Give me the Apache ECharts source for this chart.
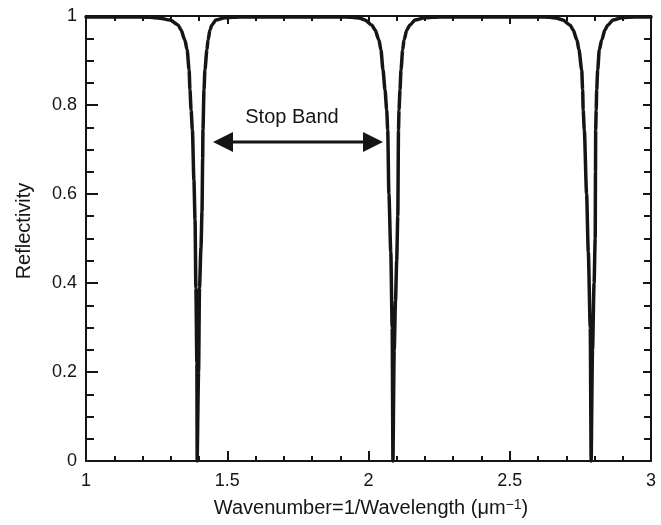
<!DOCTYPE html>
<html>
<head>
<meta charset="utf-8">
<title>Reflectivity vs wavenumber</title>
<script src="https://cdn.jsdelivr.net/npm/echarts@6/dist/echarts.min.js"></script>
<style>
  html, body { margin: 0; padding: 0; background: #ffffff; }
  #chart { width: 661px; height: 525px; }
</style>
</head>
<body>
<div id="chart"></div>
<script>
// Reflectivity spectrum: [wavenumber (1/um), reflectivity] around each transmission dip
const dip1 = [
  [1.000, 0.998], [1.156, 0.998], [1.2265, 0.997], [1.262, 0.995], [1.297, 0.991],
  [1.326, 0.980], [1.336, 0.969], [1.350, 0.946], [1.358, 0.924], [1.365, 0.879],
  [1.368, 0.834], [1.372, 0.789], [1.3766, 0.744], [1.382, 0.631], [1.386, 0.542],
  [1.389, 0.39], [1.3925, 0.22], [1.3935, 0.0], [1.396, 0.0],
  [1.3985, 0.20], [1.4018, 0.39], [1.407, 0.48], [1.4106, 0.56], [1.413, 0.68],
  [1.414, 0.744], [1.4177, 0.834], [1.421, 0.879], [1.428, 0.924], [1.432, 0.946],
  [1.439, 0.969], [1.446, 0.980], [1.460, 0.991], [1.492, 0.996], [1.545, 0.998]
];
const dip2 = [
  [1.7575, 0.998], [1.899, 0.998], [1.9416, 0.997], [1.970, 0.995], [1.9876, 0.991],
  [2.0113, 0.980], [2.023, 0.969], [2.037, 0.946], [2.044, 0.924], [2.0513, 0.879],
  [2.0584, 0.834], [2.0644, 0.789], [2.068, 0.744], [2.0722, 0.60], [2.0789, 0.47],
  [2.0838, 0.30], [2.0866, 0.0], [2.089, 0.0],
  [2.091, 0.25], [2.0956, 0.36], [2.0998, 0.45], [2.1037, 0.55], [2.1062, 0.744],
  [2.108, 0.789], [2.1115, 0.834], [2.115, 0.879], [2.121, 0.924], [2.1257, 0.946],
  [2.136, 0.969], [2.147, 0.980], [2.1646, 0.991], [2.200, 0.996], [2.253, 0.998]
];
const dip3 = [
  [2.4655, 0.998], [2.607, 0.998], [2.642, 0.997], [2.667, 0.995], [2.688, 0.991],
  [2.713, 0.980], [2.724, 0.969], [2.738, 0.946], [2.745, 0.924], [2.7547, 0.879],
  [2.758, 0.834], [2.760, 0.789], [2.7639, 0.744], [2.772, 0.60], [2.778, 0.47],
  [2.785, 0.30], [2.7882, 0.0], [2.7906, 0.0],
  [2.793, 0.25], [2.7985, 0.40], [2.8025, 0.50], [2.8035, 0.65], [2.8042, 0.744],
  [2.806, 0.789], [2.8078, 0.834], [2.8113, 0.879], [2.817, 0.924], [2.8255, 0.946],
  [2.8372, 0.969], [2.8478, 0.980], [2.8655, 0.991], [2.897, 0.996], [2.943, 0.998],
  [3.000, 0.998]
];

// Axis ranges and ticks
const xRange = [1, 3];
const xStep = 0.5;
const yRange = [0, 1];
const yStep = 0.2;

// Stop band annotation: arrow tip wavenumbers, its reflectivity level, caption position
const stopBandEdges = [1.4496, 2.0513];
const stopBandLevel = 0.717;
const stopBandCaption = { text: 'Stop Band', x: 1.729, y: 0.771 };

const FONT = "'Liberation Sans', Arial, Helvetica, sans-serif";
const INK = '#151515';

const spectrum = dip1.concat(dip2, dip3);

const chart = echarts.init(document.getElementById('chart'), null, { renderer: 'canvas' });

function baseAxis(extra) {
  return Object.assign({
    type: 'value',
    axisLine: { show: true, onZero: false, lineStyle: { color: INK, width: 2 } },
    splitLine: { show: false },
    minorSplitLine: { show: false }
  }, extra);
}

const option = {
  animation: false,
  backgroundColor: '#ffffff',
  grid: { left: 86, right: 10, top: 16, bottom: 64, outerBoundsMode: 'none', containLabel: false },
  xAxis: [
    baseAxis({
      position: 'bottom',
      min: xRange[0], max: xRange[1], interval: xStep,
      axisTick: { show: true, inside: true, length: 10, lineStyle: { color: INK, width: 2 } },
      minorTick: { show: true, splitNumber: 5, length: 5, lineStyle: { color: INK, width: 2 } },
      axisLabel: { show: true, margin: 11, color: INK, fontSize: 18, fontFamily: FONT }
    }),
    baseAxis({
      position: 'top',
      min: xRange[0], max: xRange[1], interval: xStep,
      axisTick: { show: true, inside: true, length: 8, lineStyle: { color: INK, width: 2 } },
      minorTick: { show: true, splitNumber: 5, length: 5, lineStyle: { color: INK, width: 2 } },
      axisLabel: { show: false }
    })
  ],
  yAxis: [
    baseAxis({
      position: 'left',
      min: yRange[0], max: yRange[1], interval: yStep,
      axisTick: { show: true, inside: true, length: 12, lineStyle: { color: INK, width: 2 } },
      minorTick: { show: true, splitNumber: 4, length: 8, lineStyle: { color: INK, width: 2 } },
      axisLabel: { show: true, margin: 9, color: INK, fontSize: 18, fontFamily: FONT }
    }),
    baseAxis({
      position: 'right',
      min: yRange[0], max: yRange[1], interval: yStep,
      axisTick: { show: true, inside: true, length: 8, lineStyle: { color: INK, width: 2 } },
      minorTick: { show: true, splitNumber: 4, length: 7, lineStyle: { color: INK, width: 2 } },
      axisLabel: { show: false }
    })
  ],
  series: [
    {
      type: 'line',
      xAxisIndex: 0,
      yAxisIndex: 0,
      data: spectrum,
      showSymbol: false,
      symbol: 'none',
      smooth: 0.25,
      smoothMonotone: 'x',
      clip: false,
      lineStyle: { color: INK, width: 3.5, join: 'round', cap: 'round' },
      z: 3
    },
    {
      type: 'custom',
      xAxisIndex: 0,
      yAxisIndex: 0,
      clip: false,
      data: [[stopBandEdges[0], stopBandEdges[1], stopBandLevel]],
      encode: { x: [0, 1], y: 2 },
      renderItem: function (params, api) {
        const a = api.coord([api.value(0), api.value(2)]);
        const b = api.coord([api.value(1), api.value(2)]);
        const cap = api.coord([stopBandCaption.x, stopBandCaption.y]);
        const head = 20, half = 10;
        return {
          type: 'group',
          children: [
            {
              type: 'line',
              shape: { x1: a[0] + head - 2, y1: a[1], x2: b[0] - head + 2, y2: b[1] },
              style: { stroke: INK, lineWidth: 3 }
            },
            {
              type: 'polygon',
              shape: { points: [[a[0], a[1]], [a[0] + head, a[1] - half], [a[0] + head, a[1] + half]] },
              style: { fill: INK }
            },
            {
              type: 'polygon',
              shape: { points: [[b[0], b[1]], [b[0] - head, b[1] - half], [b[0] - head, b[1] + half]] },
              style: { fill: INK }
            },
            {
              type: 'text',
              x: cap[0], y: cap[1],
              style: {
                text: stopBandCaption.text,
                fill: INK,
                font: '20px ' + FONT,
                align: 'center',
                verticalAlign: 'middle'
              }
            }
          ]
        };
      },
      z: 4
    }
  ],
  graphic: [
    {
      type: 'text',
      x: 24, y: 231,
      rotation: Math.PI / 2,
      style: {
        text: 'Reflectivity',
        fill: INK,
        font: '20px ' + FONT,
        align: 'center',
        verticalAlign: 'middle'
      }
    },
    {
      type: 'text',
      x: 371, y: 508,
      style: {
        text: 'Wavenumber=1/Wavelength (\u03bcm{s|\u22121})',
        fill: INK,
        font: '20px ' + FONT,
        align: 'center',
        verticalAlign: 'middle',
        rich: {
          s: { fontSize: 14, fontFamily: FONT, fill: INK, verticalAlign: 'top', lineHeight: 14, padding: [0, 0, 8, 0] }
        }
      }
    }
  ]
};

chart.setOption(option);
</script>
</body>
</html>
